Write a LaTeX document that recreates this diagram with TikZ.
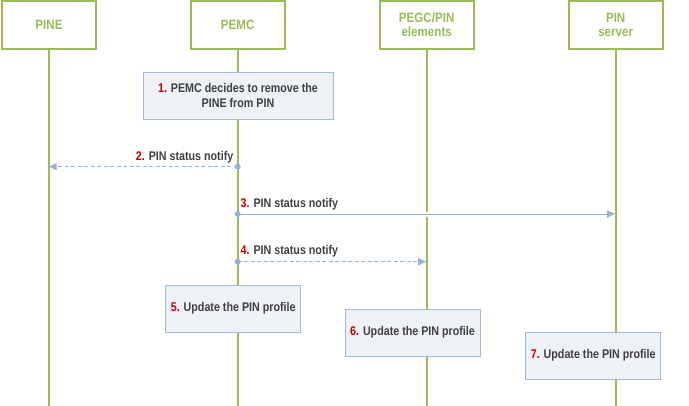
\documentclass[tikz,border=0pt]{standalone}
\usepackage{fontspec}
\setmainfont{Liberation Sans}
\newfontfamily\hdrfont[FakeStretch=0.86]{Liberation Sans}
\newfontfamily\stepfont[FakeStretch=0.85]{Liberation Sans}
\usetikzlibrary{arrows.meta}
\definecolor{lifegreen}{HTML}{9BBB59}
\definecolor{boxfill}{HTML}{EEF1F6}
\definecolor{boxdraw}{HTML}{A5BCD9}
\definecolor{msgblue}{HTML}{95B3D7}
\definecolor{numred}{HTML}{C00000}
\definecolor{txtgray}{HTML}{404040}
\tikzset{
  lifebox/.style={draw=lifegreen, line width=2pt, fill=white, minimum width=94pt, minimum height=48pt,
    text=lifegreen, font=\hdrfont\bfseries\fontsize{13.5}{15}\selectfont, align=center, inner sep=0pt},
  lifeline/.style={draw=lifegreen, line width=2pt},
  stepbox/.style={draw=boxdraw, line width=1pt, fill=boxfill, minimum height=47pt, inner sep=0pt,
    text=txtgray, font=\stepfont\bfseries\fontsize{12.6}{15}\selectfont, align=center},
  msg/.style={draw=msgblue, line width=1pt, -{Triangle[length=8pt,width=7pt]}},
  msgdash/.style={msg, dash pattern=on 4pt off 2.5pt},
  msglabel/.style={text=txtgray, font=\stepfont\bfseries\fontsize{12.6}{15}\selectfont, inner sep=0pt},
  dot/.style={circle, fill=msgblue, inner sep=0pt, minimum size=6pt}
}
\newcommand{\num}[1]{\textcolor{numred}{#1}}
\begin{document}
\begin{tikzpicture}[x=1pt,y=-1pt]
\useasboundingbox (0,0) rectangle (689,405);
% headers
\node[lifebox] (pine) at (49,25) {PINE};
\node[lifebox] (pemc) at (237.7,25) {PEMC};
\node[lifebox] (pegc) at (426.7,25) {PEGC/PIN\\[-1pt]elements};
\node[lifebox] (pins) at (615.7,25) {PIN\\[-1pt]server};
% lifeline ends
\coordinate (pineE) at (48.7,406);
\coordinate (pemcE) at (237.7,406);
\coordinate (pegcE) at (426.7,406);
\coordinate (pinsE) at (615.7,406);
\draw[lifeline] (pine.south -| pineE) -- (pineE);
\draw[lifeline] (pemc.south) -- (pemcE);
\draw[lifeline] (pegc.south) -- (pegcE);
\draw[lifeline] (pins.south) -- (pinsE);
% step boxes
\node[stepbox, minimum width=190pt] (s1) at (238,95.5) {\num{1.} PEMC decides to remove the\\PINE from PIN};
\node[stepbox, minimum width=135pt] (s5) at (233.2,308.5) {\num{5.} Update the PIN profile};
\node[stepbox, minimum width=135pt] (s6) at (412.5,332.5) {\num{6.} Update the PIN profile};
\node[stepbox, minimum width=135pt] (s7) at (593.2,355.5) {\num{7.} Update the PIN profile};
% messages
\coordinate (m2a) at (237.7,166.7);
\coordinate (m2b) at (48.7,166.7);
\coordinate (m3a) at (237.7,214);
\coordinate (m3b) at (615.2,214);
\coordinate (m4a) at (237.7,261.7);
\coordinate (m4b) at (426.2,261.7);
\fill[white] (424,211.5) rectangle (429.5,216.5);
\draw[msgdash] (m2a) -- (m2b);
\node[dot] (d2) at (m2a) {};
\draw[msg] (m3a) -- (m3b);
\node[dot] (d3) at (m3a) {};
\draw[msgdash] (m4a) -- (m4b);
\node[dot] (d4) at (m4a) {};
\node[msglabel, anchor=east] (l2) at (233.5,157) {\num{2.} PIN status notify};
\node[msglabel, anchor=west] (l3) at (240.5,204) {\num{3.} PIN status notify};
\node[msglabel, anchor=west] (l4) at (240.5,251.5) {\num{4.} PIN status notify};
\end{tikzpicture}
\end{document}
